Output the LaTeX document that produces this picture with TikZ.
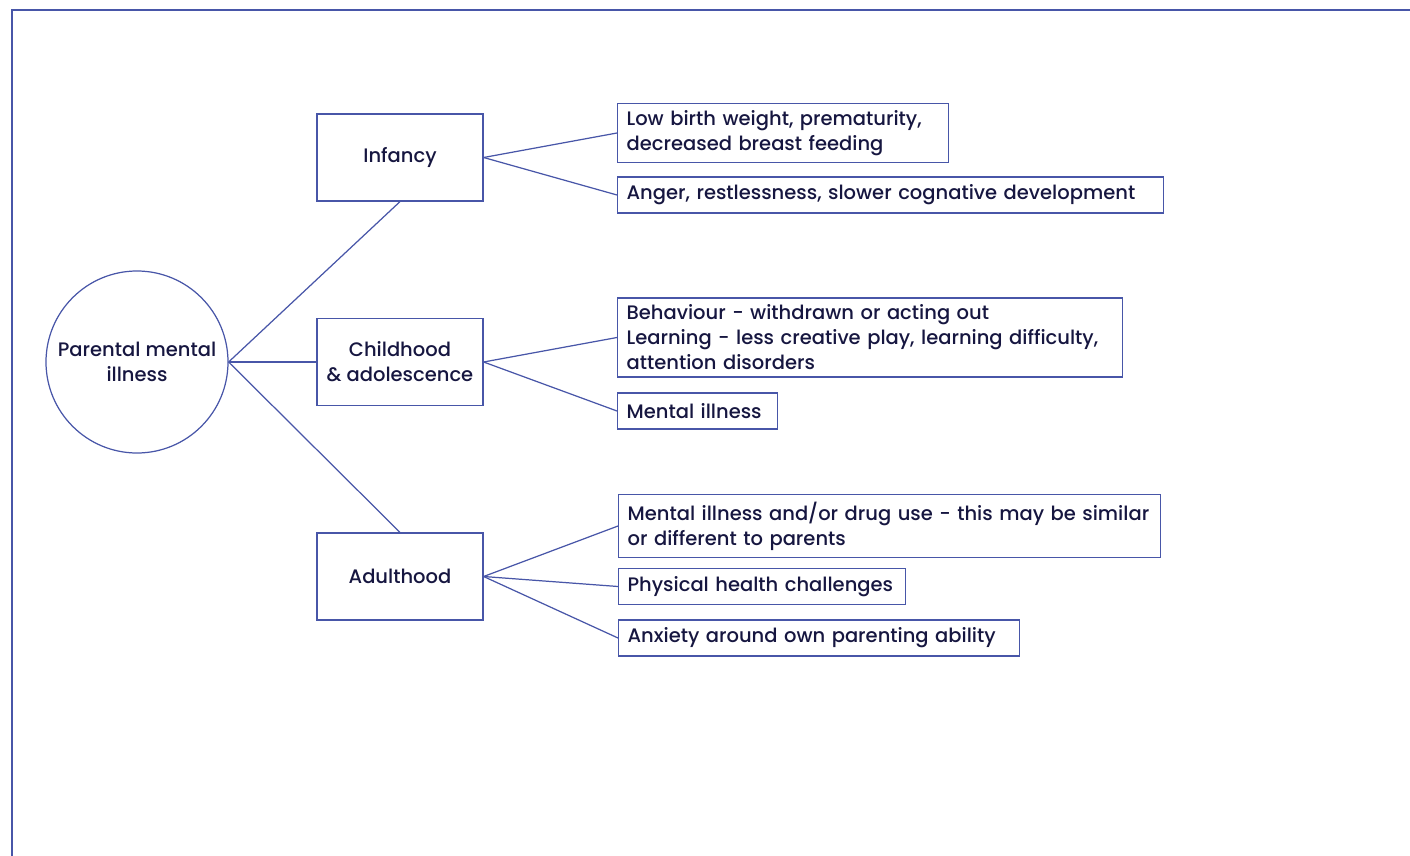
\documentclass[tikz,border=0pt]{standalone}
\usepackage{fontspec}
\setmainfont{Poppins}[UprightFont=* Medium]
\usepackage{xcolor}
\usepackage{tikz}
\usetikzlibrary{positioning}
\definecolor{linkblue}{RGB}{72,86,168}
\definecolor{inkblue}{RGB}{22,22,64}

\begin{document}
\begin{tikzpicture}[
    font=\fontsize{11.1}{14.2}\selectfont,
    text=inkblue,
    hub/.style={draw=linkblue, circle, minimum size=3.64cm, align=center, line width=0.7pt},
    stage/.style={draw=linkblue, minimum width=3.32cm, minimum height=1.74cm, align=center, line width=0.7pt},
    effect/.style={draw=linkblue, anchor=west, inner xsep=0.18cm, inner ysep=0.14cm, minimum height=0.72cm, align=left, line width=0.7pt},
    link/.style={draw=linkblue, line width=0.7pt}
  ]
    \useasboundingbox (0,0) rectangle (28.2,-17.12);
    % Frame
    \draw[linkblue, line width=0.6pt] (0.24,-17.12) |- (28.2,-0.2);

    % Centre
    \node[hub] (pmi) at (2.74, -7.24) {Parental mental\\illness};

    % Life stages
    \node[stage] (inf) at (8.00, -3.15) {Infancy};
    \node[stage] (chi) at (8.00, -7.24) {Childhood\\\& adolescence};
    \node[stage] (adu) at (8.00, -11.53) {Adulthood};

    % Effects
    \node[effect, text width=6.26cm] (e_lbw) at (12.34, -2.66) {Low birth weight, prematurity,\\decreased breast feeding};
    \node[effect, text width=10.56cm] (e_ang) at (12.34, -3.90) {Anger, restlessness, slower cognative development};
    \node[effect, text width=9.74cm] (e_beh) at (12.34, -6.75) {Behaviour - withdrawn or acting out\\Learning - less creative play, learning difficulty,\\attention disorders};
    \node[effect, text width=2.84cm] (e_mi) at (12.34, -8.22) {Mental illness};
    \node[effect, text width=10.48cm] (e_dru) at (12.36, -10.52) {Mental illness and/or drug use - this may be similar\\or different to parents};
    \node[effect, text width=5.38cm] (e_phy) at (12.36, -11.73) {Physical health challenges};
    \node[effect, text width=7.66cm] (e_anx) at (12.36, -12.76) {Anxiety around own parenting ability};

    \draw[link] (pmi.east) -- (inf.south);
    \draw[link] (pmi.east) -- (chi.west);
    \draw[link] (pmi.east) -- (adu.north);

    \draw[link] (inf.east) -- (e_lbw.west);
    \draw[link] (inf.east) -- (e_ang.west);
    \draw[link] (chi.east) -- (e_beh.west);
    \draw[link] (chi.east) -- (e_mi.west);
    \draw[link] (adu.east) -- (e_dru.west);
    \draw[link] (adu.east) -- (e_phy.west);
    \draw[link] (adu.east) -- (e_anx.west);
  \end{tikzpicture}
\end{document}
